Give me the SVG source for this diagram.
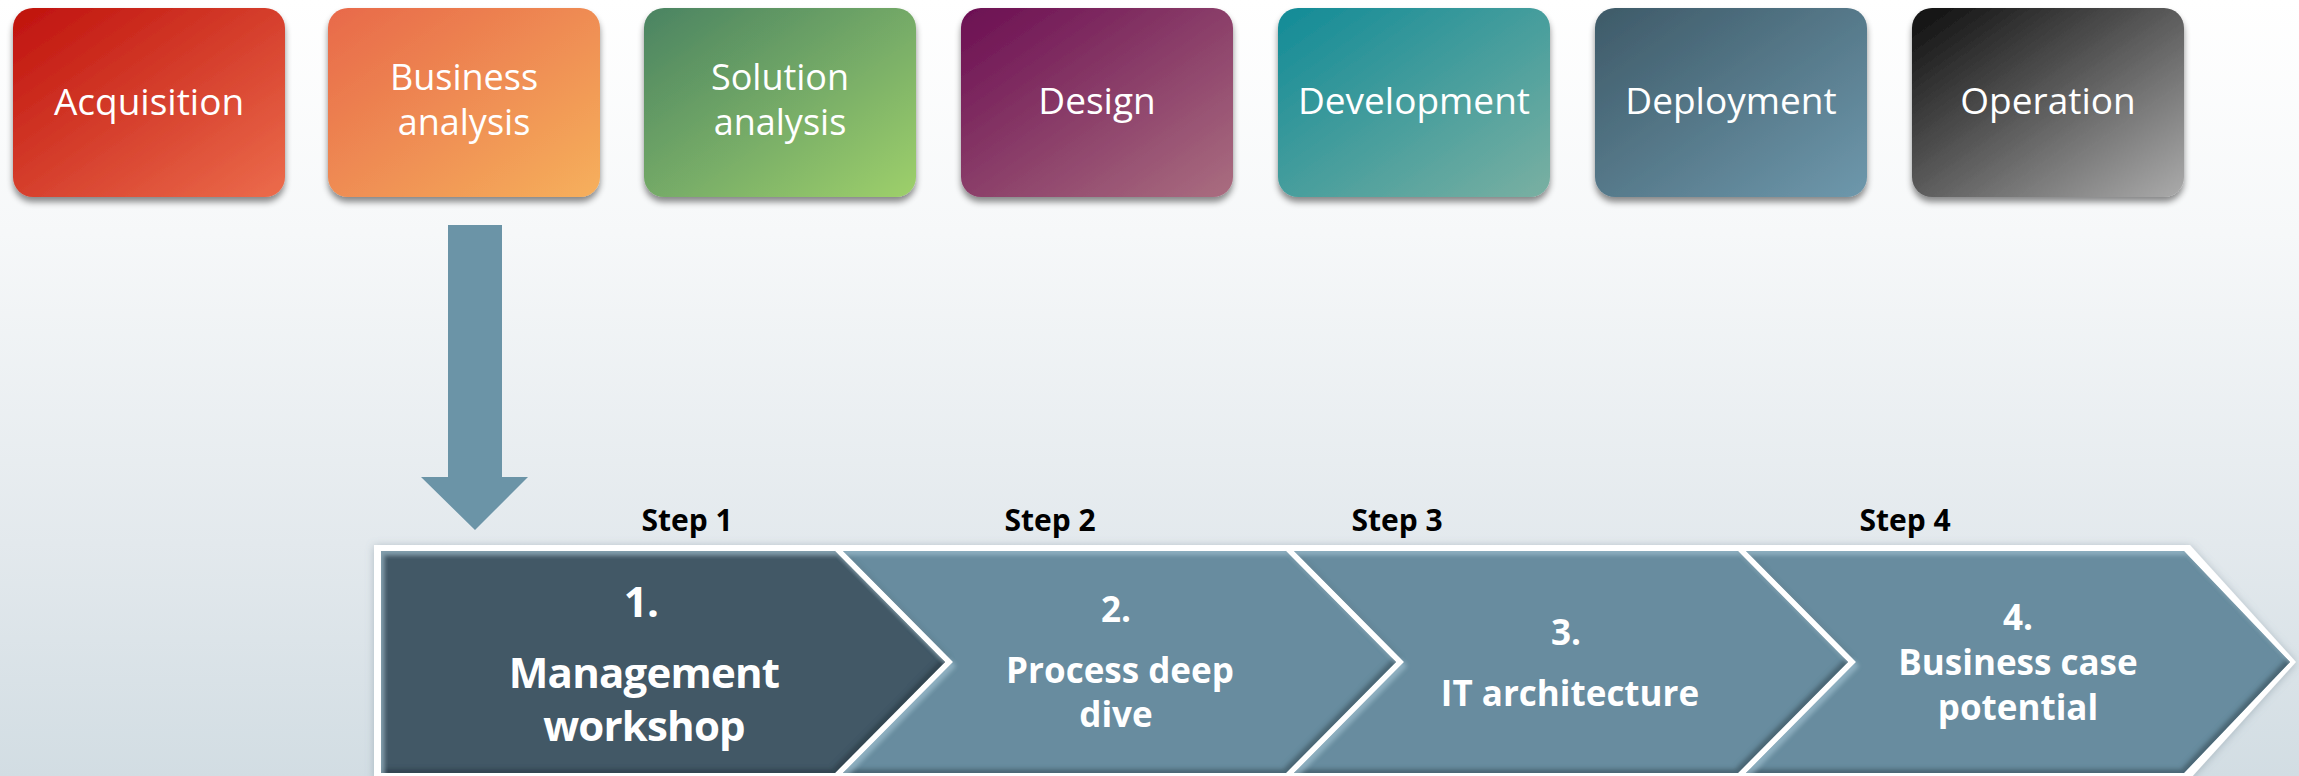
<svg xmlns="http://www.w3.org/2000/svg" width="2299" height="776" viewBox="0 0 2299 776">
  <defs>
    <linearGradient id="bg" x1="0" y1="0" x2="0" y2="1">
      <stop offset="0" stop-color="#FFFFFF"/>
      <stop offset="0.3" stop-color="#F6F8F9"/>
      <stop offset="0.7" stop-color="#E3E9ED"/>
      <stop offset="1" stop-color="#D2DDE3"/>
    </linearGradient>
    <linearGradient id="g1" x1="0" y1="0" x2="1" y2="1"><stop offset="0" stop-color="#BF120D"/><stop offset="1" stop-color="#EC6C4C"/></linearGradient>
    <linearGradient id="g2" x1="0" y1="0" x2="1" y2="1"><stop offset="0" stop-color="#E8694A"/><stop offset="1" stop-color="#F6B05C"/></linearGradient>
    <linearGradient id="g3" x1="0" y1="0" x2="1" y2="1"><stop offset="0" stop-color="#4A8362"/><stop offset="1" stop-color="#9ED06B"/></linearGradient>
    <linearGradient id="g4" x1="0" y1="0" x2="1" y2="1"><stop offset="0" stop-color="#6B0E52"/><stop offset="1" stop-color="#AA6E80"/></linearGradient>
    <linearGradient id="g5" x1="0" y1="0" x2="1" y2="1"><stop offset="0" stop-color="#128B97"/><stop offset="1" stop-color="#7AB0A2"/></linearGradient>
    <linearGradient id="g6" x1="0" y1="0" x2="1" y2="1"><stop offset="0" stop-color="#3E5A68"/><stop offset="1" stop-color="#6E98AC"/></linearGradient>
    <linearGradient id="g7" x1="0" y1="0" x2="1" y2="1"><stop offset="0" stop-color="#0D0D0D"/><stop offset="1" stop-color="#ABABAB"/></linearGradient>
    <filter id="boxShadow" x="-10%" y="-10%" width="120%" height="130%">
      <feDropShadow dx="0" dy="5" stdDeviation="3" flood-color="#000" flood-opacity="0.45"/>
    </filter>
    <filter id="frameShadow" x="-5%" y="-10%" width="110%" height="130%">
      <feDropShadow dx="0" dy="1" stdDeviation="4" flood-color="#6F8390" flood-opacity="0.45"/>
    </filter>
    <filter id="bevel" x="-2%" y="-5%" width="104%" height="110%">
      <feOffset in="SourceAlpha" dx="-3" dy="-4" result="up"/>
      <feGaussianBlur in="up" stdDeviation="2" result="upb"/>
      <feComposite in="SourceAlpha" in2="upb" operator="arithmetic" k2="1" k3="-1" result="darkEdge"/>
      <feFlood flood-color="#1E2E36" flood-opacity="0.55"/>
      <feComposite in2="darkEdge" operator="in" result="dark"/>
      <feOffset in="SourceAlpha" dx="3" dy="4" result="dn"/>
      <feGaussianBlur in="dn" stdDeviation="2" result="dnb"/>
      <feComposite in="SourceAlpha" in2="dnb" operator="arithmetic" k2="1" k3="-1" result="lightEdge"/>
      <feFlood flood-color="#A9CADA" flood-opacity="0.5"/>
      <feComposite in2="lightEdge" operator="in" result="light"/>
      <feMerge>
        <feMergeNode in="SourceGraphic"/>
        <feMergeNode in="dark"/>
        <feMergeNode in="light"/>
      </feMerge>
    </filter>
  </defs>
  <style>
    .box { filter: url(#boxShadow); }
    .phase { font-family: "Open Sans", "Noto Sans", "Liberation Sans", sans-serif; font-size: 37px; fill: #FFFFFF; text-anchor: middle; }
    .phase2 { font-size: 36px; }
    .step { font-family: "Open Sans", "Noto Sans", "Liberation Sans", sans-serif; font-size: 30px; font-weight: 700; fill: #000000; text-anchor: middle; }
    .chev { filter: url(#bevel); }
    .dark { fill: #435966; }
    .light { fill: #678C9F; }
    .ctext { font-family: "Open Sans", "Noto Sans", "Liberation Sans", sans-serif; font-size: 35px; font-weight: 700; fill: #FFFFFF; text-anchor: middle; }
    .ctext1 { font-size: 42px; letter-spacing: -0.8px; }
  </style>

  <rect x="0" y="0" width="2299" height="776" fill="url(#bg)"/>

  <!-- Phase boxes -->
  <g id="node-acquisition">
    <rect class="box" x="13" y="8" width="272" height="189" rx="20" fill="url(#g1)"/>
    <text class="phase" x="149" y="115">Acquisition</text>
  </g>
  <g id="node-business-analysis">
    <rect class="box" x="328" y="8" width="272" height="189" rx="20" fill="url(#g2)"/>
    <text class="phase phase2" x="464" y="90">Business</text>
    <text class="phase phase2" x="464" y="135">analysis</text>
  </g>
  <g id="node-solution-analysis">
    <rect class="box" x="644" y="8" width="272" height="189" rx="20" fill="url(#g3)"/>
    <text class="phase phase2" x="780" y="90">Solution</text>
    <text class="phase phase2" x="780" y="135">analysis</text>
  </g>
  <g id="node-design">
    <rect class="box" x="961" y="8" width="272" height="189" rx="20" fill="url(#g4)"/>
    <text class="phase" x="1097" y="114">Design</text>
  </g>
  <g id="node-development">
    <rect class="box" x="1278" y="8" width="272" height="189" rx="20" fill="url(#g5)"/>
    <text class="phase" x="1414" y="114">Development</text>
  </g>
  <g id="node-deployment">
    <rect class="box" x="1595" y="8" width="272" height="189" rx="20" fill="url(#g6)"/>
    <text class="phase" x="1731" y="114">Deployment</text>
  </g>
  <g id="node-operation">
    <rect class="box" x="1912" y="8" width="272" height="189" rx="20" fill="url(#g7)"/>
    <text class="phase" x="2048" y="114">Operation</text>
  </g>

  <!-- Connectors -->
  <g id="connectors">
    <path d="M448,225 L502,225 L502,477 L528,477 L475,530 L421,477 L448,477 Z" fill="#6B94A7"/>
  </g>

  <!-- Process chevron frame -->
  <g id="process-frame">
    <path d="M374,545 L2190,545 L2296,662 L2190,779 L374,779 Z" fill="#FFFFFF" filter="url(#frameShadow)"/>
  </g>

  <g id="step-1">
    <text class="step" x="687" y="531">Step 1</text>
    <path class="chev dark" d="M381,551 L835,551 L945,662 L835,773 L381,773 Z"/>
    <text class="ctext ctext1" x="641" y="617">1.</text>
    <text class="ctext ctext1" x="644" y="688">Management</text>
    <text class="ctext ctext1" x="644" y="741">workshop</text>
  </g>
  <g id="step-2">
    <text class="step" x="1050" y="531">Step 2</text>
    <path class="chev light" d="M843,551 L1286,551 L1396,662 L1286,773 L843,773 L953,662 Z"/>
    <text class="ctext" x="1116" y="622">2.</text>
    <text class="ctext" x="1120" y="683">Process deep</text>
    <text class="ctext" x="1116" y="727">dive</text>
  </g>
  <g id="step-3">
    <text class="step" x="1397" y="531">Step 3</text>
    <path class="chev light" d="M1294,551 L1738,551 L1848,662 L1738,773 L1294,773 L1404,662 Z"/>
    <text class="ctext" x="1566" y="645">3.</text>
    <text class="ctext" x="1570" y="706">IT architecture</text>
  </g>
  <g id="step-4">
    <text class="step" x="1905" y="531">Step 4</text>
    <path class="chev light" d="M1746,551 L2184,551 L2290,662 L2184,773 L1746,773 L1856,662 Z"/>
    <text class="ctext" x="2018" y="630">4.</text>
    <text class="ctext" x="2018" y="675">Business case</text>
    <text class="ctext" x="2018" y="720">potential</text>
  </g>
</svg>
